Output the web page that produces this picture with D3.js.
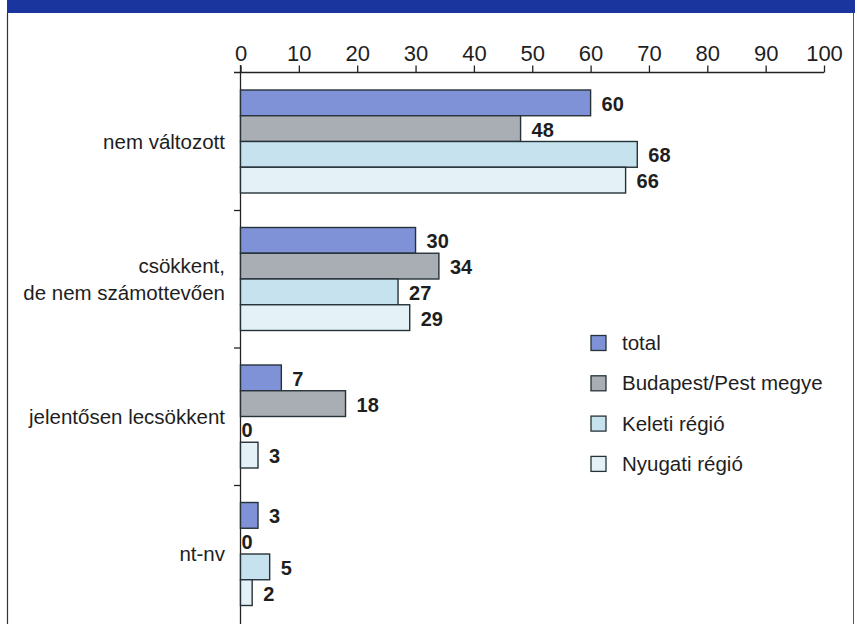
<!DOCTYPE html>
<html>
<head>
<meta charset="utf-8">
<script src="https://cdn.jsdelivr.net/npm/d3@7"></script>
<style>
  html, body { margin: 0; padding: 0; background: #fff; }
  svg { display: block; }
  text { font-family: "Liberation Sans", Arial, Helvetica, sans-serif; fill: #1e1e1e; }
</style>
</head>
<body>
<svg id="chart" width="857" height="624"></svg>
<script>
// Answer categories (top to bottom); the second one wraps onto two lines
const categories = ["nem változott", "csökkent,\nde nem számottevően", "jelentősen lecsökkent", "nt-nv"];
const seriesNames = ["total", "Budapest/Pest megye", "Keleti régió", "Nyugati régió"];
const seriesColors = ["#7f92d8", "#a9adb4", "#c6e2ee", "#e4f1f7"];
// Percentages per series, in category order
const totalValues    = [60, 30, 7, 3];
const budapestValues = [48, 34, 18, 0];
const keletiValues   = [68, 27, 0, 5];
const nyugatiValues  = [66, 29, 3, 2];
const tickValues = [0, 10, 20, 30, 40, 50, 60, 70, 80, 90, 100];

const seriesValues = [totalValues, budapestValues, keletiValues, nyugatiValues];

const svg = d3.select("#chart");

// Heading band and page frame
svg.append("rect").attr("x", 7).attr("y", 0).attr("width", 848).attr("height", 13)
  .attr("fill", "#1a369e");
svg.append("line").attr("x1", 7.5).attr("x2", 7.5).attr("y1", 13).attr("y2", 624)
  .attr("stroke", "#333").attr("stroke-width", 1.2);
svg.append("line").attr("x1", 853.5).attr("x2", 853.5).attr("y1", 13).attr("y2", 624)
  .attr("stroke", "#555").attr("stroke-width", 1);

const x = d3.scaleLinear().domain([0, 100]).range([240.5, 824]);
const y = d3.scaleBand().domain(d3.range(categories.length)).range([73, 623]);
const inner = d3.scaleBand().domain(d3.range(seriesNames.length)).range([17, 120]);

// Top value axis: ticks point upward, labels above
const axisTop = d3.axisTop(x).tickValues(tickValues).tickSize(7).tickPadding(5).tickFormat(d3.format("d"));
const gx = svg.append("g").attr("transform", "translate(0,72.5)").call(axisTop);
gx.select(".domain").attr("d", `M234,0H${x(100)}`).attr("stroke", "#222").attr("stroke-width", 1.3);
gx.selectAll(".tick line").attr("stroke", "#222").attr("stroke-width", 1.3);
gx.selectAll(".tick text")
  .style("font-family", "'Liberation Sans Narrow', 'Arial Narrow', 'Liberation Sans', sans-serif")
  .style("font-size", "22px").attr("fill", "#222");

// Vertical category axis line with separator ticks between groups
svg.append("line").attr("x1", 240.5).attr("x2", 240.5).attr("y1", 65).attr("y2", 624)
  .attr("stroke", "#222").attr("stroke-width", 1.3);
svg.selectAll(".sep").data(d3.range(1, categories.length)).join("line")
  .attr("class", "sep")
  .attr("x1", 234).attr("x2", 240.5)
  .attr("y1", i => y(i)).attr("y2", i => y(i))
  .attr("stroke", "#222").attr("stroke-width", 1.3);

// Category labels, right aligned beside the axis
categories.forEach((label, i) => {
  const lines = label.split("\n");
  const cy = y(i) + y.bandwidth() / 2;
  const t = svg.append("text").attr("text-anchor", "end")
    .style("font-size", "20.5px").attr("fill", "#222");
  lines.forEach((ln, k) => {
    t.append("tspan").attr("x", 225)
      .attr("y", cy + (k - (lines.length - 1) / 2) * 27)
      .attr("dy", "0.35em").text(ln);
  });
});

// Bars and value labels
const groups = svg.selectAll(".grp").data(categories.map((c, i) => i)).join("g")
  .attr("class", "grp")
  .attr("transform", i => `translate(0,${y(i)})`);

groups.each(function(ci) {
  const g = d3.select(this);
  const rows = seriesValues.map((vals, si) => ({ si, v: vals[ci] }));
  g.selectAll("rect").data(rows.filter(d => d.v > 0)).join("rect")
    .attr("x", x(0))
    .attr("y", d => inner(d.si))
    .attr("width", d => x(d.v) - x(0))
    .attr("height", inner.bandwidth())
    .attr("fill", d => seriesColors[d.si])
    .attr("stroke", "#263238").attr("stroke-width", 1.4);
  g.selectAll("text").data(rows).join("text")
    .attr("x", d => d.v > 0 ? x(d.v) + 11 : x(0) + 1)
    .attr("y", d => inner(d.si) + inner.bandwidth() / 2 + 1)
    .attr("dy", "0.35em")
    .style("font-size", "20px").style("font-weight", "bold")
    .text(d => d.v);
});

// Legend
const legend = svg.append("g").attr("transform", "translate(591,343)");
const items = legend.selectAll("g").data(seriesNames).join("g")
  .attr("transform", (d, i) => `translate(0,${i * 40.3})`);
items.append("rect").attr("x", 0).attr("y", -7.5).attr("width", 15).attr("height", 15)
  .attr("fill", (d, i) => seriesColors[i])
  .attr("stroke", "#263238").attr("stroke-width", 1.3);
items.append("text").attr("x", 31).attr("y", 0).attr("dy", "0.35em")
  .style("font-size", "20.5px").attr("fill", "#222").text(d => d);
</script>
</body>
</html>
